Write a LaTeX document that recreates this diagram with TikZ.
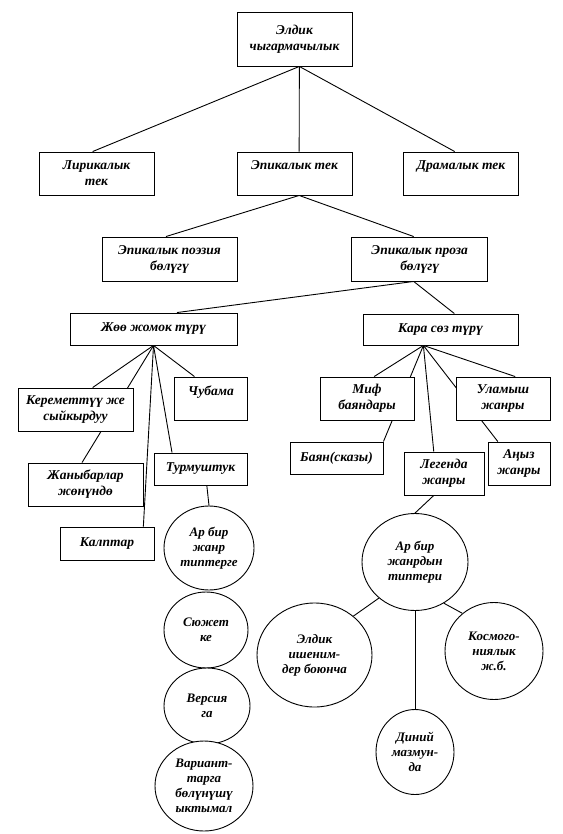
\documentclass[tikz,border=0pt]{standalone}
\usepackage{fontspec}
\setmainfont{Liberation Serif}
\usetikzlibrary{shapes.geometric,backgrounds}

\begin{document}
\begin{tikzpicture}[x=1pt, y=-1pt,
    box/.style={draw, fill=white, line width=0.9pt, align=center, inner sep=1pt,
        font=\fontsize{13.5}{16}\selectfont\bfseries\itshape},
    oval/.style={box, ellipse, inner sep=-4pt, font=\fontsize{13}{15}\selectfont\bfseries\itshape},
    link/.style={line width=0.9pt}]
    \useasboundingbox (0,0) rectangle (562,834);
    % Boxes
    \foreach \name/\x/\y/\w/\h/\txt in {
        top/294.5/39/115/54/{Элдик\\чыгармачылык},
        lir/96.5/173.5/115/43/{Лирикалык\\тек},
        epi/294.5/173.5/115/43/{Эпикалык тек\\ \mbox{}},
        dram/461/173.5/115/43/{Драмалык тек\\ \mbox{}},
        poez/169.5/259/135/44/{Эпикалык поэзия\\бөлүгү},
        proz/419.7/259/136/44/{Эпикалык проза\\бөлүгү},
        zhoo/153.5/329/167/32/{Жөө жомок түрү},
        kara/440.5/329.5/155/31/{Кара сөз түрү},
        ker/75.5/409.5/115/43/{Кереметтүү же\\сыйкырдуу},
        chub/211/398.5/73/43/{Чубама\\ \mbox{}},
        zhan/85.5/484.5/115/43/{Жаныбарлар\\жөнүндө},
        turm/200.5/469/93/32/{Турмуштук},
        kalp/107/543.5/94/33/{Калптар},
        mif/367/398.5/94/43/{Миф\\баяндары},
        ulam/503/398.5/94/43/{Уламыш\\жанры},
        bayan/336.5/458/93/32/{Баян(сказы)},
        leg/444/473.5/80/43/{Легенда\\жанры},
        ayyz/519/463.5/62/43/{Аңыз\\жанры}} {
        \node[box, minimum width=\w pt, minimum height=\h pt] (\name) at (\x,\y) {\txt};
    }
    % Circles
    \foreach \name/\x/\y/\w/\h/\txt in {
        C1/209/548/90/84/{Ар бир\\жанр\\типтерге},
        C2/206/630/84/76/{Сюжет\\ке},
        C3/207/706/86/76/{Версия\\га},
        C4/204/786/98/90/{Вариант-\\тарга\\бөлүнүшү\\ыктымал},
        C5/415/562/106/97/{Ар бир\\жанрдын\\типтери},
        C6/314.5/655/115/104/{Элдик\\ишеним-\\дер боюнча},
        C7/494/651/98/97/{Космого-\\ниялык\\ж.б.},
        C8/415/752/78/85/{Диний\\мазмун-\\да}} {
        \node[oval, minimum width=\w pt, minimum height=\h pt] (\name) at (\x,\y) {\txt};
    }
    % Lines
    \begin{scope}[on background layer]
        \foreach \a/\b in {top.-80/lir.100, top.-80/epi.78, top.-80/dram.106,
            epi.-78/poez.99, epi.-78/proz.105,
            proz.-105/zhoo.35, proz.-105/kara.49,
            zhoo.south/ker.52, zhoo.south/zhan.99, zhoo.south/kalp.25,
            zhoo.south/turm.150, zhoo.south/chub.127,
            turm.-69/C1.north,
            kara.-137/mif.72, kara.-137/bayan.north east, kara.-137/leg.115,
            kara.-137/ayyz.134, kara.-137/ulam.61,
            leg.-115/C5.north, C5.-135/C6.45, C5.-55/C7.130, C5.south/C8.north} {
            \draw[link] (\a) -- (\b);
        }
    \end{scope}
\end{tikzpicture}
\end{document}
